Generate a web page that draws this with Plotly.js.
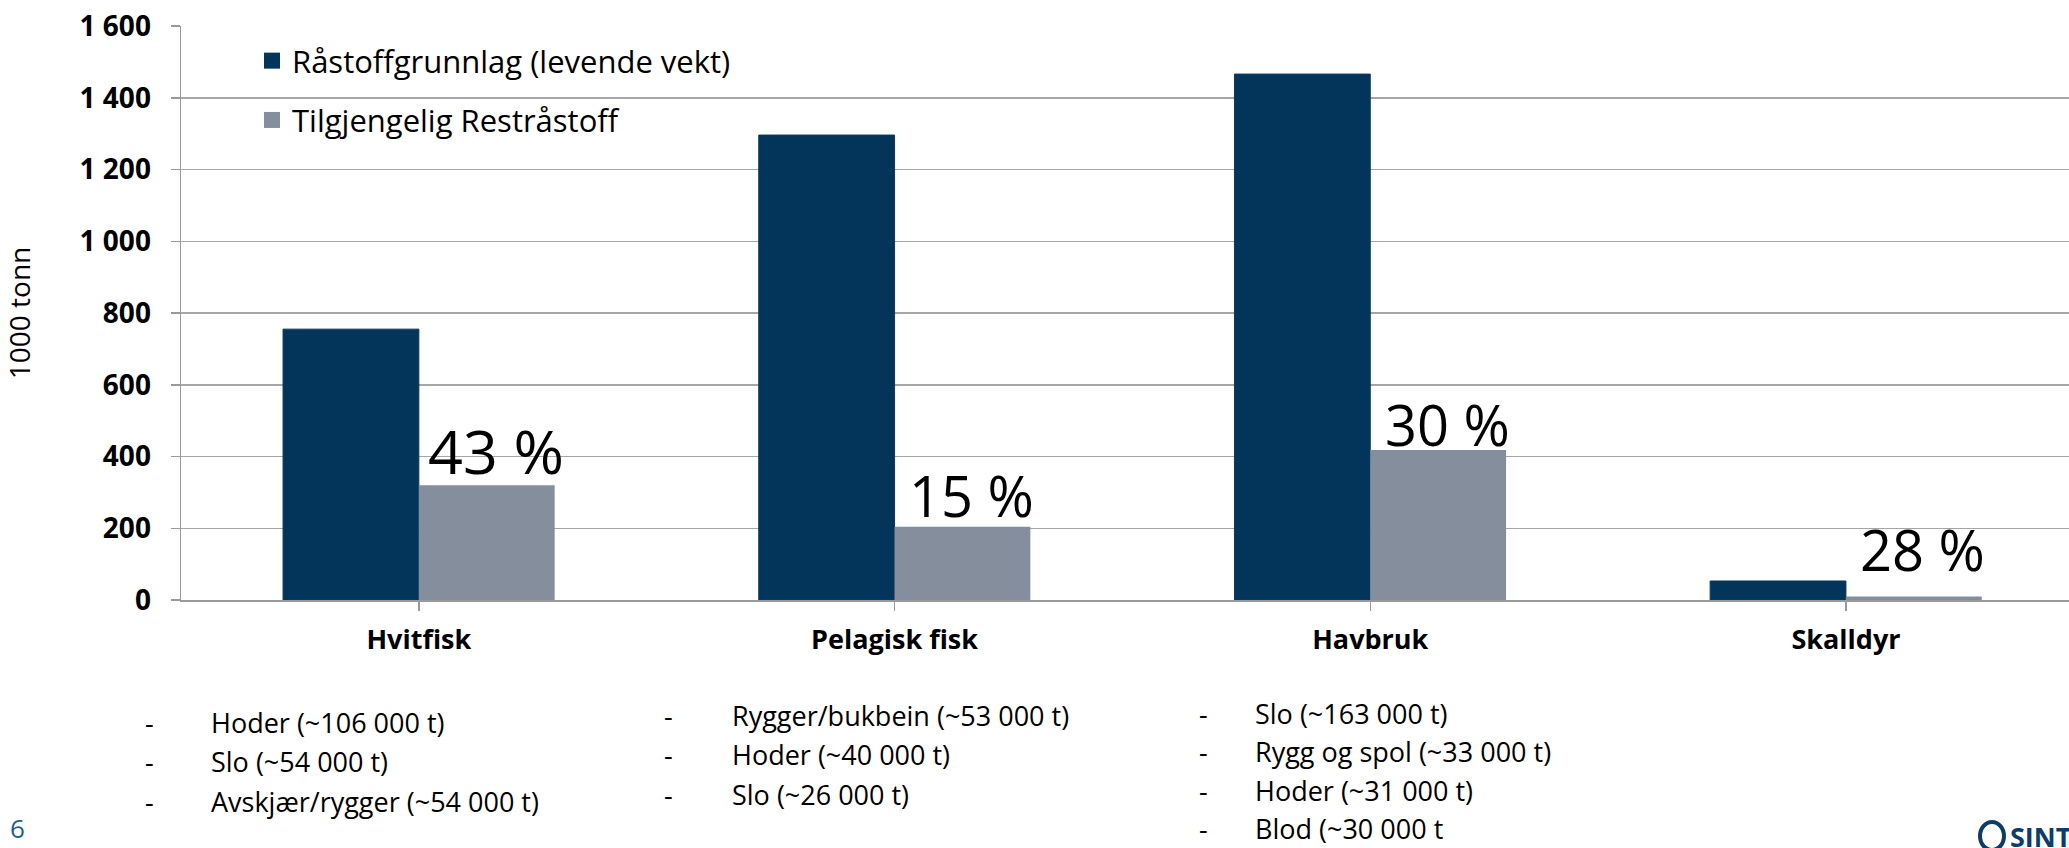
<!DOCTYPE html>
<html>
<head>
<meta charset="utf-8">
<script src="https://cdn.plot.ly/plotly-3.0.1.min.js"></script>
<style>
  html, body { margin: 0; padding: 0; background: #fff; }
  #chart { width: 2069px; height: 848px; }
</style>
</head>
<body>
<div id="chart"></div>
<script>
'use strict';

// Data (1000 tonn)
const categories = ['Hvitfisk', 'Pelagisk fisk', 'Havbruk', 'Skalldyr'];
const raastoffgrunnlag = [755, 1296, 1466, 53];
const restraastoff = [320, 204, 418, 10];
const shareLabels = ['43 %', '15 %', '30 %', '28 %'];
const seriesNames = ['Råstoffgrunnlag (levende vekt)', 'Tilgjengelig Restråstoff'];

const yTickVals = [0, 200, 400, 600, 800, 1000, 1200, 1400, 1600];
const yTickText = ['0', '200', '400', '600', '800', '1 000', '1 200', '1 400', '1 600'];

const hvitfiskNotes = ['Hoder (~106 000 t)', 'Slo (~54 000 t)', 'Avskjær/rygger (~54 000 t)'];
const pelagiskNotes = ['Rygger/bukbein (~53 000 t)', 'Hoder (~40 000 t)', 'Slo (~26 000 t)'];
const havbrukNotes = ['Slo (~163 000 t)', 'Rygg og spol (~33 000 t)', 'Hoder (~31 000 t)', 'Blod (~30 000 t'];

const font = '"Open Sans", sans-serif';
const colors = ['#03355a', '#858e9c'];

const W = 2069, H = 848;
const margin = {l: 181, r: 0, t: 26, b: 248, pad: 0};
const plotW = W - margin.l - margin.r;
const plotH = H - margin.t - margin.b;

// pixel -> paper helpers for the free text around the plot
const px = x => (x - margin.l) / plotW;
const py = y => (H - margin.b - y) / plotH;

const xIdx = categories.map((c, i) => i);

const data = [{
  type: 'bar',
  name: seriesNames[0],
  x: xIdx,
  y: raastoffgrunnlag,
  marker: {color: colors[0], line: {color: '#0b3a5e', width: 1}},
  showlegend: false,
  hoverinfo: 'none'
}, {
  type: 'bar',
  name: seriesNames[1],
  x: xIdx,
  y: restraastoff,
  marker: {color: colors[1]},
  showlegend: false,
  hoverinfo: 'none'
}];

// legend entries with bigger square swatches
seriesNames.forEach((name, i) => {
  data.push({
    type: 'scatter',
    mode: 'markers',
    name,
    legendgroup: 'g' + i,
    x: [null],
    y: [null],
    marker: {symbol: 'square', size: 17, color: colors[i]},
    hoverinfo: 'none'
  });
});

const annotations = [];

// share labels above the grey bars
const labelYShift = [-9, -8, -14, 7];
const labelSize = [61, 56, 56, 56];
shareLabels.forEach((t, i) => {
  annotations.push({
    x: i, xref: 'x', xshift: 77,
    y: restraastoff[i], yref: 'y', yshift: labelYShift[i],
    yanchor: 'bottom', xanchor: 'center',
    text: t, showarrow: false,
    font: {family: font, size: labelSize[i], color: '#000'}
  });
});

// bullet lists under the categories
function addNotes(notes, dashX, textX, firstY, step) {
  notes.forEach((t, i) => {
    const y = py(firstY + i * step);
    annotations.push({xref: 'paper', yref: 'paper', x: px(dashX), y, xanchor: 'center', yanchor: 'middle',
      text: '-', showarrow: false, font: {family: font, size: 27, color: '#000'}});
    annotations.push({xref: 'paper', yref: 'paper', x: px(textX), y, xanchor: 'left', yanchor: 'middle',
      text: t, showarrow: false, font: {family: font, size: 27, color: '#000'}});
  });
}
addNotes(hvitfiskNotes, 149, 209, 722, 39.5);
addNotes(pelagiskNotes, 668, 730, 715, 39.5);
addNotes(havbrukNotes, 1203, 1253, 713, 38.5);

// slide number and logo (cut off at the right edge, as on the slide)
annotations.push({xref: 'paper', yref: 'paper', x: px(17), y: py(828), xanchor: 'center', yanchor: 'middle',
  text: '6', showarrow: false, font: {family: font, size: 26, color: '#1f5d8c'}});
annotations.push({xref: 'paper', yref: 'paper', x: px(2008), y: py(836), xanchor: 'left', yanchor: 'middle',
  text: '<b>SINTEF</b>', showarrow: false, font: {family: font, size: 27, color: '#0b3d6b'}});

const shapes = [{
  type: 'circle', xref: 'paper', yref: 'paper',
  x0: px(1980), x1: px(2004), y0: py(850), y1: py(822),
  line: {color: '#0b3d6b', width: 4}
}];

const layout = {
  width: W,
  height: H,
  margin,
  paper_bgcolor: '#fff',
  plot_bgcolor: '#fff',
  barmode: 'group',
  bargap: 0.429,
  bargroupgap: 0,
  showlegend: true,
  legend: {
    x: px(252), y: py(34), xanchor: 'left', yanchor: 'top',
    bgcolor: 'rgba(0,0,0,0)',
    font: {family: font, size: 31, color: '#000'},
    traceorder: 'grouped',
    tracegroupgap: 16,
    itemwidth: 30
  },
  xaxis: {
    range: [-0.5, -0.5 + plotW / 475.7],
    tickvals: xIdx,
    ticktext: categories.map(c => '<b>' + c + '</b>'),
    tickson: 'boundaries',
    ticks: 'outside',
    ticklen: 9,
    tickcolor: '#999',
    tickwidth: 1.5,
    ticklabelstandoff: 6,
    showgrid: false,
    showline: true,
    linecolor: '#999',
    linewidth: 1.5,
    zeroline: false,
    tickfont: {family: font, size: 27, color: '#000'},
    fixedrange: true
  },
  yaxis: {
    range: [0, 1600],
    tickvals: yTickVals,
    ticktext: yTickText.map(t => '<b>' + t + '</b>'),
    ticks: 'outside',
    ticklen: 9,
    tickcolor: '#999',
    tickwidth: 1.5,
    ticklabelstandoff: 14,
    showgrid: true,
    gridcolor: '#a6a6a6',
    gridwidth: 1.5,
    showline: true,
    linecolor: '#999',
    linewidth: 1.5,
    zeroline: false,
    tickfont: {family: font, size: 28, color: '#000'},
    title: {text: '1000 tonn', standoff: 44, font: {family: font, size: 28, color: '#000'}},
    automargin: false,
    fixedrange: true
  },
  annotations,
  shapes
};

Plotly.newPlot('chart', data, layout, {displayModeBar: false, staticPlot: true});
</script>
</body>
</html>
